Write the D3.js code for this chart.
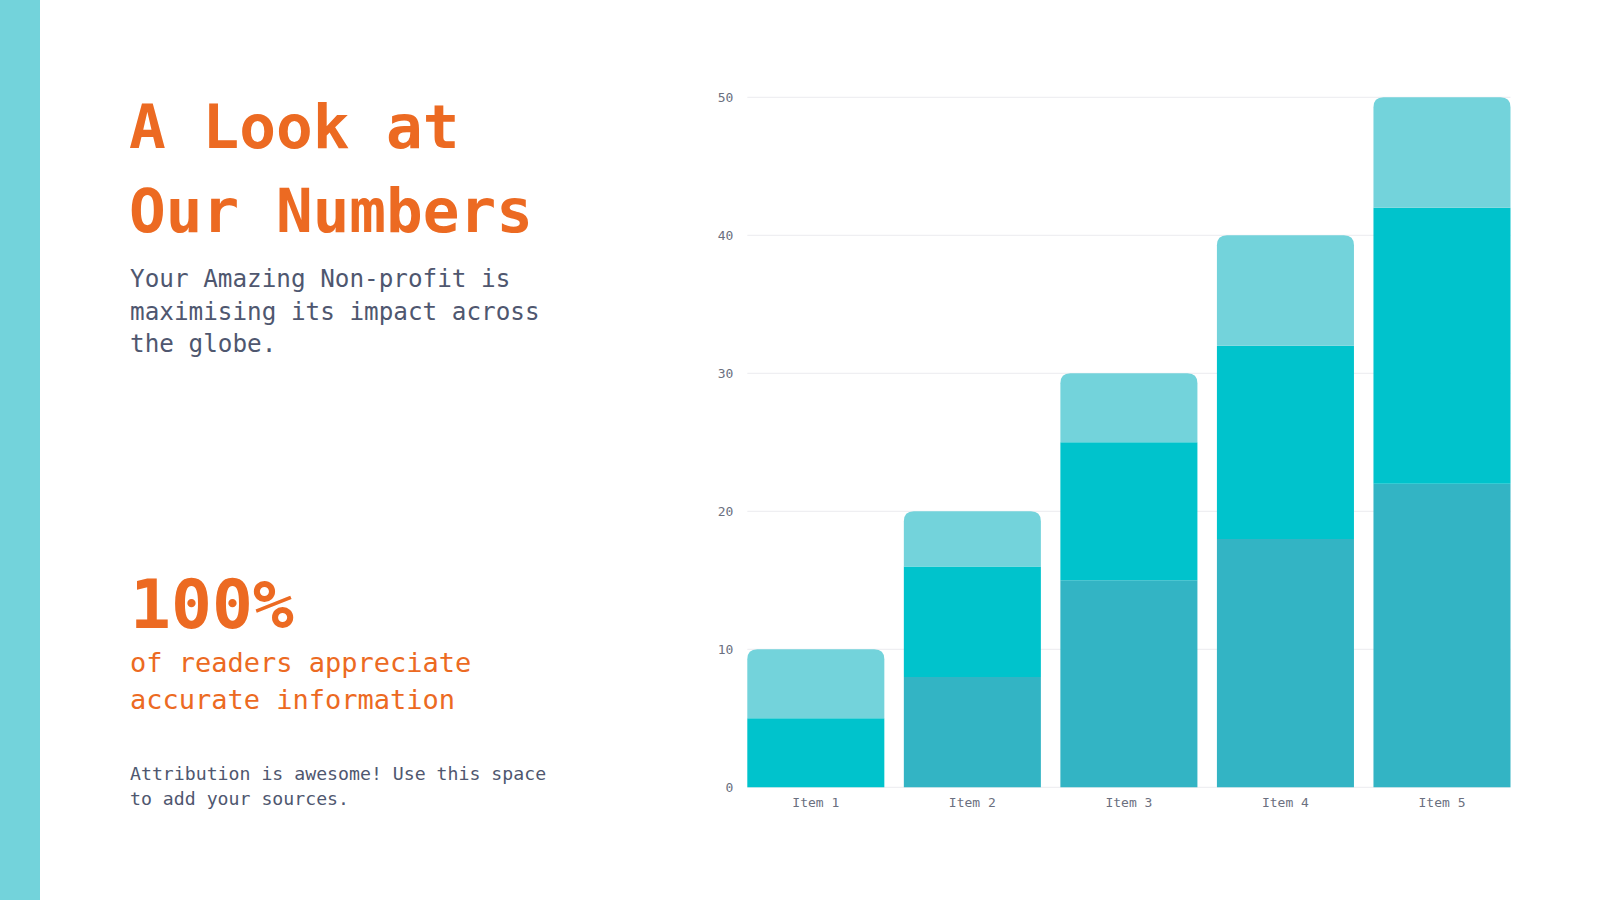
<!DOCTYPE html>
<html>
<head>
<meta charset="utf-8">
<script src="https://cdn.jsdelivr.net/npm/d3@7"></script>
<style>
  html, body { margin: 0; padding: 0; background: #fff; }
  svg { display: block; }
  text { font-family: "DejaVu Sans Mono", "Liberation Mono", monospace; }
</style>
</head>
<body>
<div id="chart"></div>
<script>
// Chart data
const categories = ["Item 1", "Item 2", "Item 3", "Item 4", "Item 5"];
const seriesBottom = [0, 8, 15, 18, 22];
const seriesMiddle = [5, 8, 10, 14, 20];
const seriesTop = [5, 4, 5, 8, 8];
const yTicks = [0, 10, 20, 30, 40, 50];

const titleLines = ["A Look at", "Our Numbers"];
const introLines = ["Your Amazing Non-profit is", "maximising its impact across", "the globe."];
const statValue = "100%";
const statLines = ["of readers appreciate", "accurate information"];
const sourceLines = ["Attribution is awesome! Use this space", "to add your sources."];

const orange = "#ec6a22";
const slate = "#4f576f";
const colors = ["#33b4c4", "#00c3cc", "#73d3db"];

const W = 1600, H = 900;
const svg = d3.select("#chart").append("svg")
    .attr("width", W)
    .attr("height", H);

// left accent stripe
svg.append("rect")
    .attr("x", 0).attr("y", 0)
    .attr("width", 40).attr("height", H)
    .attr("fill", "#73d3db");

// text column
svg.append("g").selectAll("text")
    .data(titleLines)
    .join("text")
    .attr("x", 129)
    .attr("y", (d, i) => 148 + i * 84)
    .attr("fill", orange)
    .attr("font-size", 61)
    .attr("font-weight", "bold")
    .text(d => d);

svg.append("g").selectAll("text")
    .data(introLines)
    .join("text")
    .attr("x", 130)
    .attr("y", (d, i) => 287 + i * 32.5)
    .attr("fill", slate)
    .attr("font-size", 24.3)
    .text(d => d);

svg.append("text")
    .attr("x", 130)
    .attr("y", 628)
    .attr("fill", orange)
    .attr("font-size", 68)
    .attr("font-weight", "bold")
    .text(statValue);

svg.append("g").selectAll("text")
    .data(statLines)
    .join("text")
    .attr("x", 130)
    .attr("y", (d, i) => 672 + i * 36.5)
    .attr("fill", orange)
    .attr("font-size", 27)
    .text(d => d);

svg.append("g").selectAll("text")
    .data(sourceLines)
    .join("text")
    .attr("x", 130)
    .attr("y", (d, i) => 780 + i * 25)
    .attr("fill", slate)
    .attr("font-size", 18.2)
    .text(d => d);

// chart area
const x = d3.scaleBand()
    .domain(categories)
    .range([747.3, 1510.5])
    .paddingInner(0.1246)
    .paddingOuter(0);

const y = d3.scaleLinear()
    .domain([0, 50])
    .range([787.3, 97.3]);

// grid lines
svg.append("g").selectAll("line")
    .data(yTicks)
    .join("line")
    .attr("x1", x.range()[0])
    .attr("x2", x.range()[1])
    .attr("y1", d => y(d))
    .attr("y2", d => y(d))
    .attr("stroke", "#ececef")
    .attr("stroke-width", 1);

// y axis labels
const yAxis = svg.append("g")
    .attr("transform", `translate(${x.range()[0] - 14},0)`)
    .call(d3.axisLeft(y).tickValues(yTicks).tickSize(0).tickPadding(0));
yAxis.select(".domain").remove();
yAxis.selectAll("text")
    .attr("fill", "#6b7080")
    .attr("font-size", 13)
    .style("font-family", "'DejaVu Sans Mono', monospace");

// x axis labels
const xAxis = svg.append("g")
    .attr("transform", `translate(0,${y(0)})`)
    .call(d3.axisBottom(x).tickSize(0).tickPadding(10));
xAxis.select(".domain").remove();
xAxis.selectAll("text")
    .attr("fill", "#6b7080")
    .attr("font-size", 13)
    .style("font-family", "'DejaVu Sans Mono', monospace");

// stacked bars
const rows = categories.map((c, i) => ({
    cat: c,
    bottom: seriesBottom[i],
    middle: seriesMiddle[i],
    top: seriesTop[i]
}));
const keys = ["bottom", "middle", "top"];
const stacked = d3.stack().keys(keys)(rows);

// rect with rounded top corners only
function topRounded(x0, y0, w, h, r) {
    r = Math.min(r, h, w / 2);
    return `M${x0},${y0 + h}V${y0 + r}Q${x0},${y0} ${x0 + r},${y0}` +
        `H${x0 + w - r}Q${x0 + w},${y0} ${x0 + w},${y0 + r}V${y0 + h}Z`;
}

stacked.forEach((layer, li) => {
    svg.append("g")
        .attr("fill", colors[li])
        .selectAll("path")
        .data(layer)
        .join("path")
        .attr("d", d => {
            const x0 = x(d.data.cat);
            const y0 = y(d[1]);
            const h = y(d[0]) - y(d[1]);
            if (li === keys.length - 1) return topRounded(x0, y0, x.bandwidth(), h, 10);
            return `M${x0},${y0}h${x.bandwidth()}v${h}h${-x.bandwidth()}Z`;
        });
});
</script>
</body>
</html>
